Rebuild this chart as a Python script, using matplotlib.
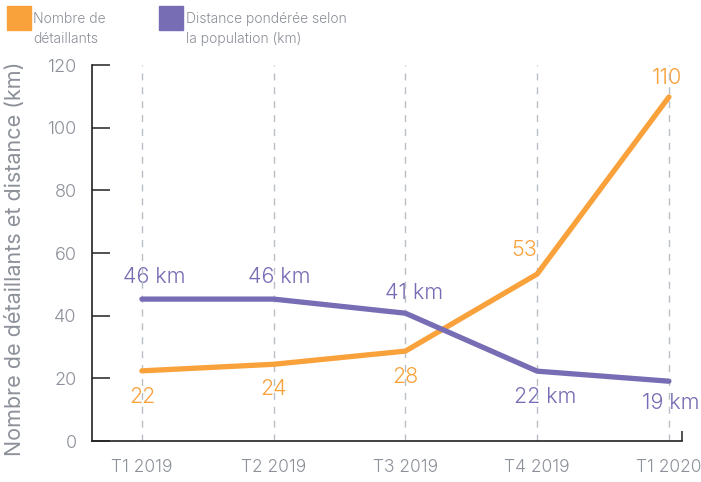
import matplotlib.pyplot as plt
from matplotlib.patches import Rectangle

plt.rcParams['font.family'] = ['Inter', 'DejaVu Sans']
plt.rcParams['font.weight'] = 300

quarters = ['T1 2019', 'T2 2019', 'T3 2019', 'T4 2019', 'T1 2020']
retailers = [22.4, 24.5, 28.7, 53.3, 109.8]
distance = [45.3, 45.3, 40.8, 22.3, 19.1]
retailer_labels = ['22', '24', '28', '53', '110']
distance_labels = ['46 km', '46 km', '41 km', '22 km', '19 km']
yticks = [0, 20, 40, 60, 80, 100, 120]

orange = '#F9A13A'
purple = '#776DB5'
grey = '#8C9099'

fig = plt.figure(figsize=(7.01, 4.82), dpi=100)
ax = fig.add_axes([0.131, 0.085, 0.842, 0.780])

x = list(range(len(quarters)))

# dashed vertical guides (over the labels, under the lines)
for xi in x:
    ax.axvline(xi, color='#B9BDC4', linestyle=(0, (5, 5)), linewidth=1, zorder=2)

ax.plot(x, retailers, color=orange, linewidth=3.8, solid_capstyle='round',
        solid_joinstyle='round', zorder=3)
ax.plot(x, distance, color=purple, linewidth=3.8, solid_capstyle='round',
        solid_joinstyle='round', zorder=3)

# label offsets in pixels
px = 72 / 100
r_off = [(0, -26), (0, -25), (0, -26), (-13, 24), (-2, 19)]
d_off = [(12, 22), (6, 22), (9, 20), (8, -26), (2, -22)]
for i in x:
    ax.annotate(retailer_labels[i], (i, retailers[i]), xytext=(r_off[i][0] * px, r_off[i][1] * px),
                textcoords='offset points', ha='center', va='center', fontsize=15.5,
                color=orange, zorder=1)
    ax.annotate(distance_labels[i], (i, distance[i]), xytext=(d_off[i][0] * px, d_off[i][1] * px),
                textcoords='offset points', ha='center', va='center', fontsize=15.5,
                color=purple, zorder=1)

ax.set_xlim(-0.38, 4.1)
ax.set_ylim(0, 120)
ax.set_xticks(x)
ax.set_xticklabels(quarters)
ax.set_yticks(yticks)

for s in ['top', 'right']:
    ax.spines[s].set_visible(False)
for s in ['left', 'bottom']:
    ax.spines[s].set_linewidth(1.2)
    ax.spines[s].set_color('#222222')

ax.tick_params(axis='y', direction='in', length=13, width=1.1, color='#222222',
               pad=11, labelsize=13, labelcolor=grey)
ax.tick_params(axis='x', length=0, pad=13, labelsize=12.5, labelcolor=grey)
ax.set_xticks([4.1], minor=True)
ax.tick_params(axis='x', which='minor', direction='in', length=7, width=1.1, color='#222222')

ax.set_ylabel('Nombre de détaillants et distance (km)', fontsize=15.5, color=grey)
ax.yaxis.set_label_coords(-0.113, 0.484)

# legend at the top
fig.patches.append(Rectangle((7 / 701, 1 - 30 / 482), 24 / 701, 24 / 482,
                             transform=fig.transFigure, color=orange))
fig.patches.append(Rectangle((159 / 701, 1 - 30 / 482), 24 / 701, 24 / 482,
                             transform=fig.transFigure, color=purple))
fig.text(33 / 701, 1 - 12 / 482, 'Nombre de\ndétaillants', ha='left', va='top',
         fontsize=10, color=grey, linespacing=1.55)
fig.text(186 / 701, 1 - 12 / 482, 'Distance pondérée selon\nla population (km)', ha='left', va='top',
         fontsize=10, color=grey, linespacing=1.55)

fig.savefig('out.png', dpi=100)
